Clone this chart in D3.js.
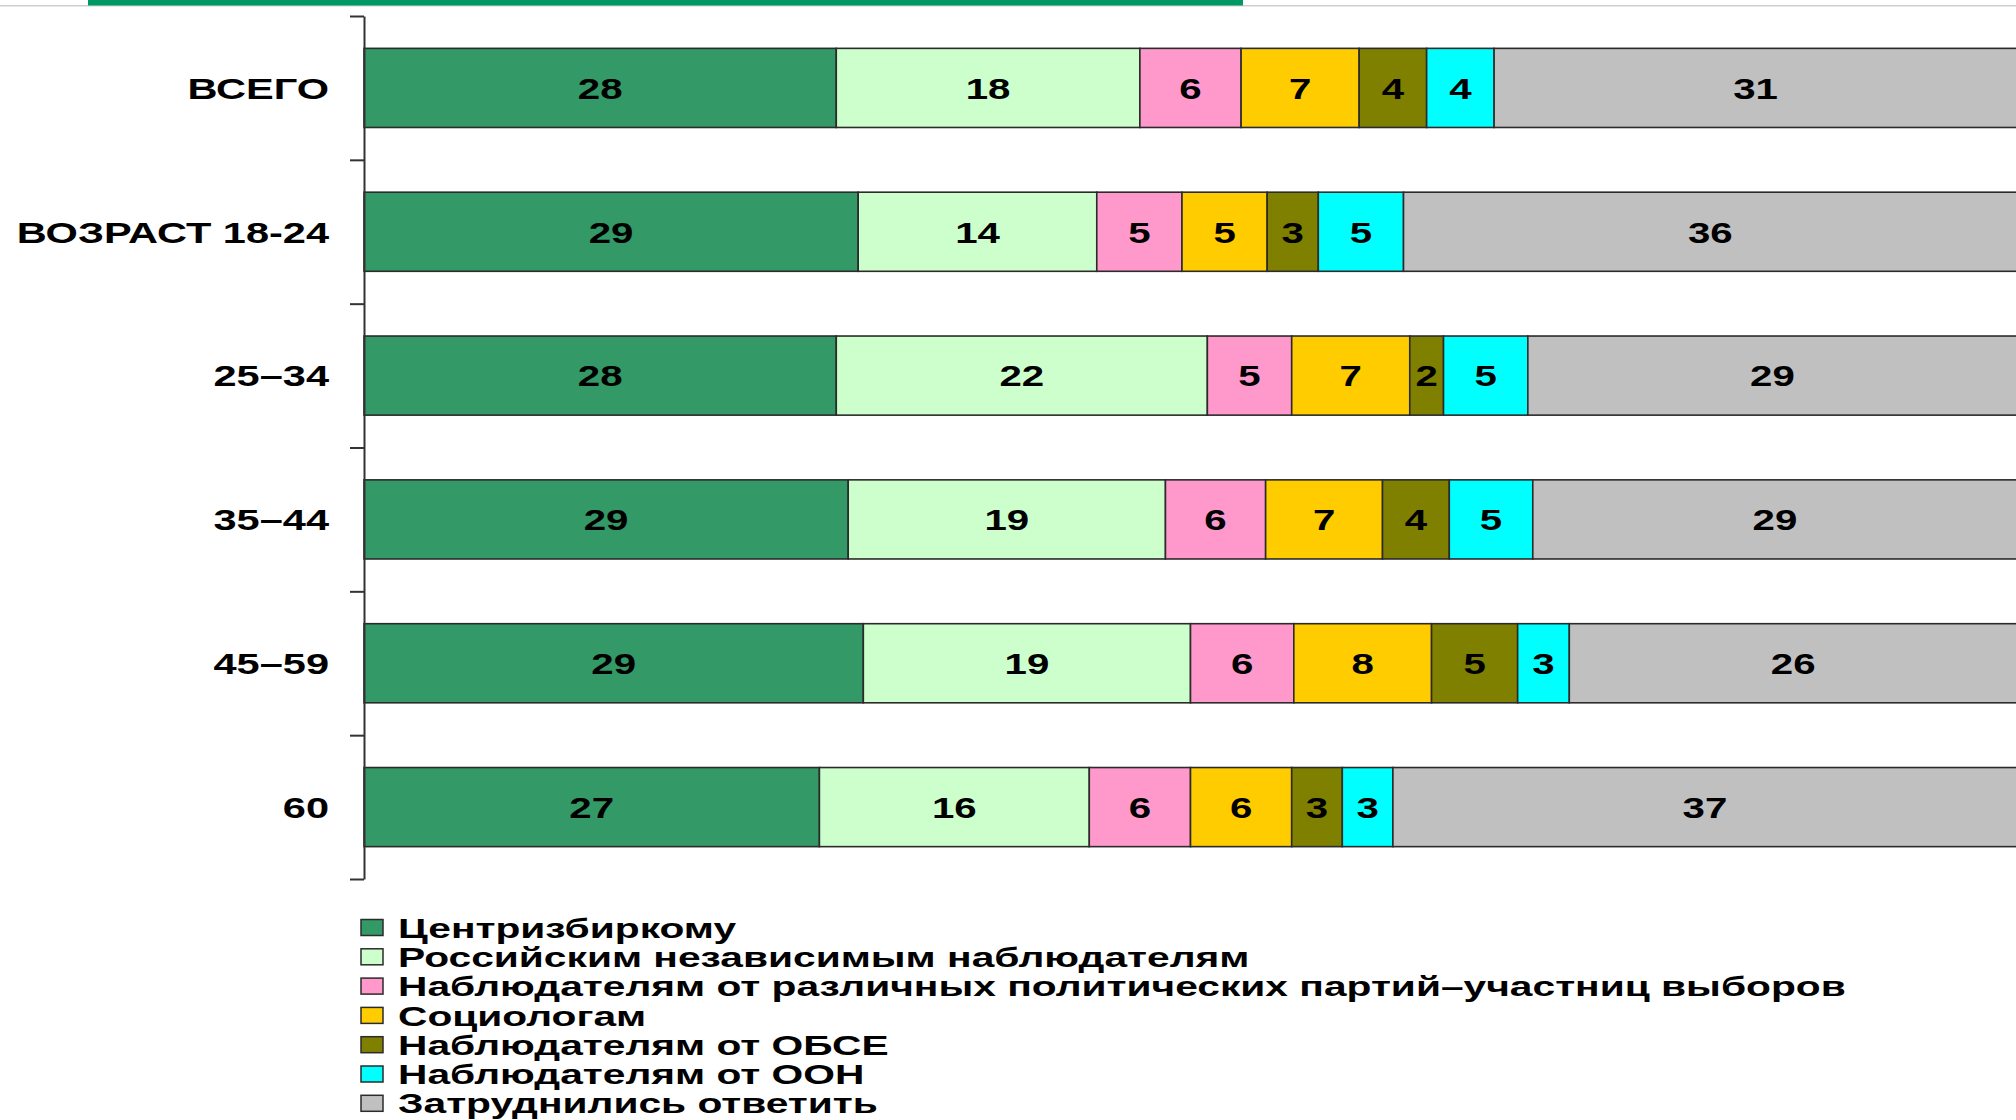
<!DOCTYPE html>
<html>
<head>
<meta charset="utf-8">
<script src="https://cdn.jsdelivr.net/npm/d3@7"></script>
<style>
  html, body { margin: 0; padding: 0; background: #ffffff; overflow: hidden; }
  svg { display: block; }
  text { font-family: "Liberation Sans", Arial, sans-serif; font-weight: bold; fill: #000; }
</style>
</head>
<body>
<script>
// Row categories (respondent groups)
const groups = ["ВСЕГО", "ВОЗРАСТ 18-24", "25–34", "35–44", "45–59", "60"];

// Answer options, in stacking order
const seriesNames = [
  "Центризбиркому",
  "Российским независимым наблюдателям",
  "Наблюдателям от различных политических партий–участниц выборов",
  "Социологам",
  "Наблюдателям от ОБСЕ",
  "Наблюдателям от ООН",
  "Затруднились ответить"
];
const seriesColors = ["#339966", "#CCFFCC", "#FF99CC", "#FFCC00", "#808000", "#00FFFF", "#C0C0C0"];

// Shares (%) per group, one array per answer option
const centralCommission = [28, 29, 28, 29, 29, 27];
const russianObservers  = [18, 14, 22, 19, 19, 16];
const partyObservers    = [6, 5, 5, 6, 6, 6];
const sociologists      = [7, 5, 7, 7, 8, 6];
const osceObservers     = [4, 3, 2, 4, 5, 3];
const unObservers       = [4, 5, 5, 5, 3, 3];
const noAnswer          = [31, 36, 29, 29, 26, 37];

const seriesValues = [centralCommission, russianObservers, partyObservers, sociologists,
                      osceObservers, unObservers, noAnswer];

const W = 2016, H = 1120;
const stretchX = 1.34;       // wide-format horizontal stretch of lettering
const groupStretchX = 1.385;
const legendStretchX = 1.52;

const svg = d3.select("body").append("svg").attr("width", W).attr("height", H);

// Slide header rule
svg.append("rect").attr("x", 0).attr("y", 5).attr("width", W).attr("height", 1.5).attr("fill", "#cfcfcf");
svg.append("rect").attr("x", 88).attr("y", 0).attr("width", 1155).attr("height", 5.5).attr("fill", "#009966");

// Scales: each row is stacked to 100 %
const x = d3.scaleLinear().domain([0, 1]).range([364, 2017]);
const y = d3.scaleBand().domain(groups).range([16, 879]).paddingInner(0.45).paddingOuter(0.225);

// Table of stacked rows built from the series arrays
const table = groups.map((g, i) => {
  const row = { group: g };
  seriesNames.forEach((s, j) => { row[s] = seriesValues[j][i]; });
  return row;
});
const stacked = d3.stack().keys(seriesNames).offset(d3.stackOffsetExpand)(table);

const plot = svg.append("g");
const layers = plot.selectAll("g.layer").data(stacked).join("g")
  .attr("class", "layer")
  .attr("fill", (d, i) => seriesColors[i]);

layers.selectAll("rect").data(d => d).join("rect")
  .attr("x", d => x(d[0]))
  .attr("y", d => y(d.data.group))
  .attr("width", d => x(d[1]) - x(d[0]))
  .attr("height", y.bandwidth())
  .attr("stroke", "#2b2b2b")
  .attr("stroke-width", 1.6);

// Value labels centred in each segment
layers.selectAll("g.val").data(d => d.map(p => ({ p, key: d.key }))).join("g")
  .attr("class", "val")
  .attr("transform", d => `translate(${(x(d.p[0]) + x(d.p[1])) / 2},${y(d.p.data.group) + y.bandwidth() / 2}) scale(${stretchX},1)`)
  .append("text")
  .attr("text-anchor", "middle")
  .attr("dy", "0.36em")
  .style("font-size", "30px")
  .text(d => d.p.data[d.key]);

// Category axis: ticks separate the groups
const tickScale = d3.scaleLinear().domain([0, groups.length]).range([16, 879]);
const axis = svg.append("g").attr("transform", "translate(364,0)")
  .call(d3.axisLeft(tickScale).ticks(groups.length).tickFormat("").tickSize(14).tickSizeOuter(0));
axis.select(".domain").attr("stroke", "#333").attr("stroke-width", 2);
axis.selectAll(".tick line").attr("stroke", "#333").attr("stroke-width", 2);

// Group labels
svg.append("g").selectAll("g").data(groups).join("g")
  .attr("transform", d => `translate(329,${y(d) + y.bandwidth() / 2}) scale(${groupStretchX},1)`)
  .append("text")
  .attr("text-anchor", "end")
  .attr("dy", "0.36em")
  .style("font-size", "30px")
  .text(d => d);

// Legend
const legend = svg.append("g").selectAll("g").data(seriesNames).join("g")
  .attr("transform", (d, i) => `translate(0,${928 + i * 29.3})`);
legend.append("rect")
  .attr("x", 361).attr("y", -8.5).attr("width", 22).attr("height", 16)
  .attr("fill", (d, i) => seriesColors[i])
  .attr("stroke", "#2b2b2b").attr("stroke-width", 1.5);
legend.append("g")
  .attr("transform", `translate(398,0) scale(${legendStretchX},1)`)
  .append("text")
  .attr("dy", "0.36em")
  .style("font-size", "26.8px")
  .text(d => d);
</script>
</body>
</html>
